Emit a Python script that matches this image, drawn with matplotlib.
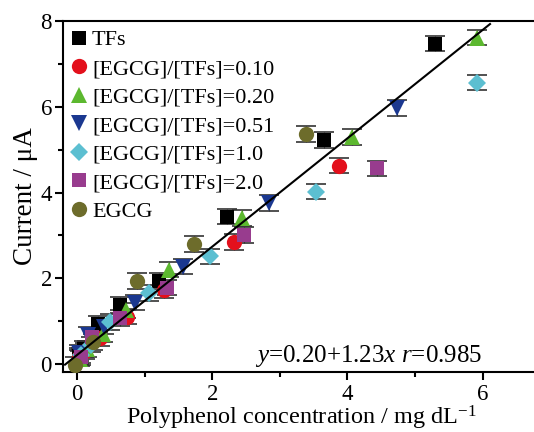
import numpy as np
import matplotlib.pyplot as plt
from matplotlib.ticker import MultipleLocator

plt.rcParams['font.family'] = ['Liberation Serif', 'DejaVu Serif']
plt.rcParams['mathtext.fontset'] = 'custom'
plt.rcParams['mathtext.rm'] = 'Liberation Serif'
plt.rcParams['mathtext.it'] = 'Liberation Serif:italic'

labels = ['TFs', '[EGCG]/[TFs]=0.10', '[EGCG]/[TFs]=0.20', '[EGCG]/[TFs]=0.51',
          '[EGCG]/[TFs]=1.0', '[EGCG]/[TFs]=2.0', 'EGCG']

x_tfs = [0.02, 0.10, 0.31, 0.63, 1.21, 2.22, 3.66, 5.30]
y_tfs = [0.18, 0.35, 0.93, 1.38, 1.94, 3.44, 5.23, 7.48]
x_010 = [0.03, 0.12, 0.34, 0.74, 1.28, 2.32, 3.87]
y_010 = [0.15, 0.30, 0.60, 1.10, 1.73, 2.85, 4.63]
x_020 = [0.04, 0.14, 0.38, 0.72, 1.36, 2.44, 4.07, 5.91]
y_020 = [0.12, 0.35, 0.70, 1.25, 2.20, 3.41, 5.30, 7.62]
x_051 = [0.03, 0.16, 0.39, 0.85, 1.57, 2.84, 4.73]
y_051 = [0.25, 0.68, 0.87, 1.43, 2.27, 3.76, 5.98]
x_10 = [0.05, 0.20, 0.49, 1.06, 1.96, 3.53, 5.91]
y_10 = [0.20, 0.45, 0.98, 1.66, 2.51, 4.02, 6.57]
x_20 = [0.05, 0.22, 0.64, 1.33, 2.47, 4.43]
y_20 = [0.15, 0.63, 1.07, 1.78, 3.01, 4.57]
x_egcg = [-0.03, 0.24, 0.89, 1.73, 3.39]
y_egcg = [-0.02, 0.51, 1.94, 2.80, 5.37]

yerr = 0.18

fit_intercept = 0.21
fit_slope = 1.265
fit_x = [-0.18, 6.11]

xs = [x_tfs, x_010, x_020, x_051, x_10, x_20, x_egcg]
ys = [y_tfs, y_010, y_020, y_051, y_10, y_20, y_egcg]
colors = ['black', '#e3101c', '#5cb82f', '#1b3890', '#5cbfd1', '#983c8e', '#6d6c2b']
markers = ['s', 'o', '^', 'v', 'D', 's', 'o']
sizes = [10, 11, 11, 11, 9, 10, 11]

fig = plt.figure(figsize=(5.34, 4.32), dpi=100)
ax = fig.add_axes([63/534, 60/432, 1 - 63/534 + 0.01, 351/432])

fx = np.array(fit_x)
ax.plot(fx, fit_intercept + fit_slope * fx, color='black', lw=1.5, zorder=4)

for x, y, c, m, s, lab in zip(xs, ys, colors, markers, sizes, labels):
    ax.errorbar(x, y, yerr=yerr, fmt='none', ecolor='#333333', elinewidth=0.8,
                capsize=7.5, capthick=1.2, zorder=2)
    ax.plot(x, y, linestyle='none', marker=m, color=c, markersize=s,
            markeredgewidth=0, label=lab, zorder=3)

ax.set_xlim(-0.21, 6.84)
ax.set_ylim(-0.19, 8.01)
ax.xaxis.set_major_locator(MultipleLocator(2))
ax.xaxis.set_minor_locator(MultipleLocator(1))
ax.yaxis.set_major_locator(MultipleLocator(2))
ax.yaxis.set_minor_locator(MultipleLocator(1))
ax.tick_params(which='both', direction='out', width=1.5, labelsize=16.5)
ax.tick_params(which='major', length=6)
ax.tick_params(which='minor', length=3.5)
ax.tick_params(axis='x', pad=3)
ax.tick_params(axis='y', pad=2)
ax.spines['right'].set_visible(False)
for sp in ['left', 'bottom', 'top']:
    ax.spines[sp].set_linewidth(1.5)

ax.set_xlabel('Polyphenol concentration / mg dL$^{-1}$', fontsize=17.5, labelpad=-1)
ax.set_ylabel('Current / μA', fontsize=19.5, labelpad=2)

ax.text(6.0, 0.05, r'$y$=0.20+1.23$x$ $r$=0.985', ha='right', va='baseline',
        fontsize=18)

ax.legend(loc='upper left', frameon=False, fontsize=16, handlelength=0.6,
          handletextpad=0.3, labelspacing=0.36, borderaxespad=0.1,
          borderpad=0.3, bbox_to_anchor=(0.0, 1.0))

fig.savefig('out.png', dpi=100)
